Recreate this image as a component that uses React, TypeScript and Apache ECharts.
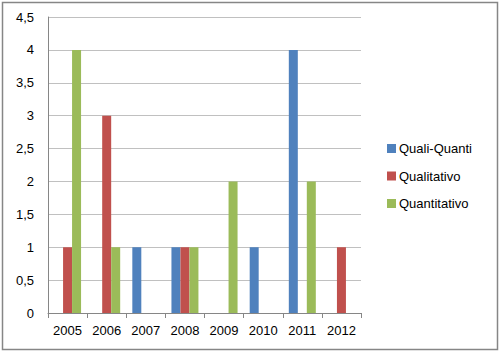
import React, { useEffect, useRef } from "react";
import * as echarts from "echarts";

const categories = ["2005", "2006", "2007", "2008", "2009", "2010", "2011", "2012"];
const qualiQuanti = [0, 0, 1, 1, 0, 1, 4, 0];
const qualitativo = [1, 3, 0, 1, 0, 0, 0, 1];
const quantitativo = [4, 1, 0, 1, 2, 0, 2, 0];
const seriesNames = ["Quali-Quanti", "Qualitativo", "Quantitativo"];
const colors = ["#4F81BD", "#C0504D", "#9BBB59"];

export default function App() {
  const ref = useRef<HTMLDivElement>(null);
  useEffect(() => {
    document.body.style.margin = "0";
    const chart = echarts.init(ref.current!, null, { renderer: "svg" });
    const font = "'Liberation Sans', Arial, sans-serif";
    const data = [qualiQuanti, qualitativo, quantitativo];
    chart.setOption({
      animation: false,
      backgroundColor: "#ffffff",
      textStyle: { fontFamily: font },
      graphic: [
        {
          type: "rect",
          shape: { x: 2.5, y: 2.5, width: 495, height: 347 },
          style: { fill: "none", stroke: "#868686", lineWidth: 1.5 },
          z: 100,
        },
      ],
      grid: { left: 48, top: 17, right: 139, bottom: 40 },
      legend: {
        orient: "vertical",
        left: 387,
        top: 142,
        padding: 0,
        itemWidth: 9,
        itemHeight: 9,
        itemGap: 14.5,
        icon: "rect",
        textStyle: { fontSize: 13, color: "#000", fontFamily: font, padding: [0, 0, 0, -2] },
        data: seriesNames,
      },
      xAxis: {
        type: "category",
        data: categories,
        axisLine: { lineStyle: { color: "#868686" } },
        axisTick: { show: true, alignWithLabel: false, length: 5, lineStyle: { color: "#868686" } },
        axisLabel: { color: "#000", fontSize: 13, margin: 11, fontFamily: font },
      },
      yAxis: {
        type: "value",
        min: 0,
        max: 4.5,
        interval: 0.5,
        axisLine: { show: true, lineStyle: { color: "#868686" } },
        axisTick: { show: false },
        splitLine: { lineStyle: { color: "#c0c0c0" } },
        axisLabel: {
          color: "#000",
          fontSize: 13,
          margin: 14,
          fontFamily: font,
          formatter: (v: number) => String(v).replace(".", ","),
        },
      },
      series: seriesNames.map((name, i) => ({
        name,
        type: "bar",
        data: data[i],
        barGap: "0%",
        barCategoryGap: "31%",
        itemStyle: { color: colors[i] },
      })),
    });
    return () => chart.dispose();
  }, []);
  return <div ref={ref} style={{ width: 500, height: 353 }} />;
}
